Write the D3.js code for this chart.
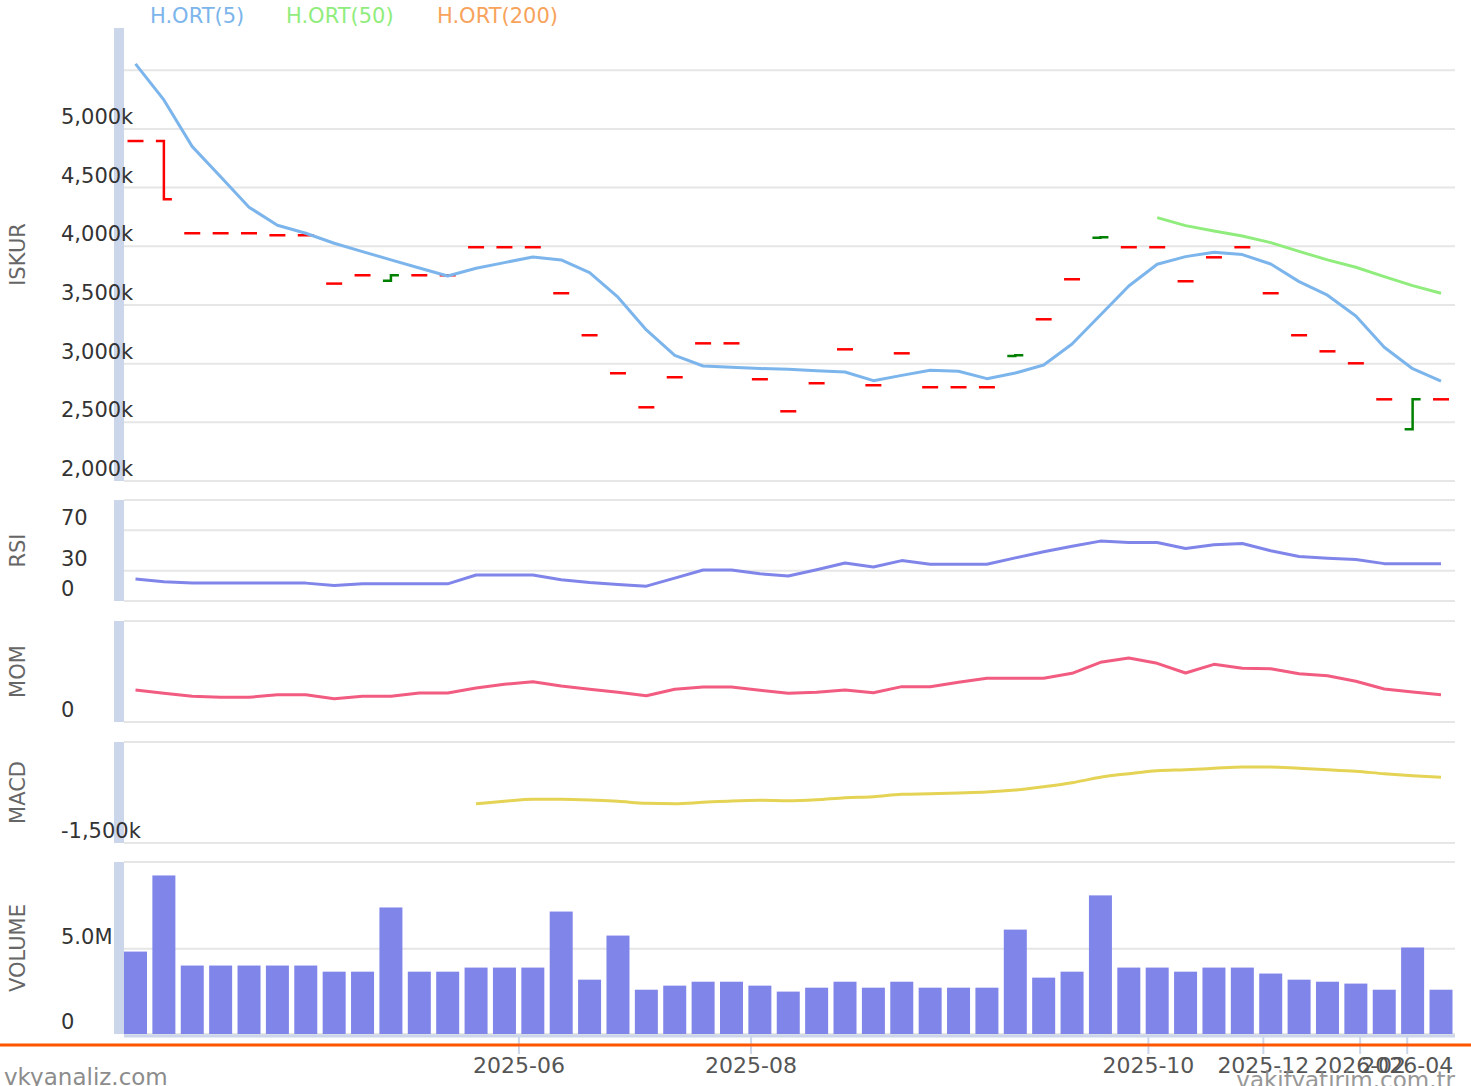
<!DOCTYPE html>
<html>
<head>
<meta charset="utf-8">
<script src="https://cdn.jsdelivr.net/npm/d3@7"></script>
<style>
    body { margin: 0; background: #fff; }
    svg { display: block; font-family: "DejaVu Sans", Verdana, sans-serif; }
</style>
</head>
<body>
<svg id="drawing_region"></svg>
<script>
// price bars (k), one per period
const open  = [4897, 4897, 4111, 4111, 4111, 4094, 4094, 3682, 3753, 3707, 3753, 3753, 3992, 3992, 3992, 3600,
               3242, 2918, 2628, 2884, 3173, 3173, 2867, 2594, 2833, 3122, 2816, 3088, 2799, 2799, 2799, 3066,
               3378, 3719, 4072, 3992, 3992, 3702, 3906, 3992, 3600, 3242, 3105, 3003, 2696, 2440, 2696];
const close = [4897, 4401, 4111, 4111, 4111, 4094, 4094, 3682, 3753, 3753, 3753, 3753, 3992, 3992, 3992, 3600,
               3242, 2918, 2628, 2884, 3173, 3173, 2867, 2594, 2833, 3122, 2816, 3088, 2799, 2799, 2799, 3071,
               3378, 3719, 4077, 3992, 3992, 3702, 3906, 3992, 3600, 3242, 3105, 3003, 2696, 2696, 2696];
const ma5   = [5554, 5247, 4849, 4593, 4333, 4179, 4111, 4026, 3955, 3884, 3815, 3747, 3813, 3861, 3909, 3884,
               3776, 3566, 3287, 3071, 2980, 2969, 2958, 2952, 2940, 2929, 2855, 2900, 2943, 2935, 2872, 2920,
               2988, 3168, 3415, 3662, 3847, 3912, 3949, 3929, 3849, 3699, 3583, 3406, 3140, 2957, 2850];
const ma50  = [null, null, null, null, null, null, null, null, null, null, null, null, null, null, null, null,
               null, null, null, null, null, null, null, null, null, null, null, null, null, null, null, null,
               null, null, null, null, 4244, 4176, 4131, 4088, 4031, 3957, 3884, 3821, 3741, 3665, 3600];
const rsi   = [21.7, 19, 17.7, 17.7, 17.7, 17.7, 17.7, 15.3, 17, 17, 17, 17, 25.7, 25.7, 25.7, 21,
               18.3, 16.3, 14.7, 22.7, 30.7, 30.7, 27, 24.7, 31, 37.7, 33.7, 40, 36.3, 36.3, 36.3, 42.7,
               48.7, 54.3, 59.3, 58, 58, 52, 55.7, 57, 49.7, 44, 42.3, 41, 37, 37, 37];
const mom   = [31.7, 28.4, 25.4, 24.5, 24.5, 27, 27, 23, 25.4, 25.4, 28.7, 28.7, 33.7, 37.3, 39.9, 35.6,
               32.4, 29.4, 26, 32.4, 34.7, 34.7, 31.4, 28.4, 29.4, 31.7, 29, 35, 35, 39.3, 43.3, 43.3,
               43.3, 48.2, 59.1, 63.4, 58.1, 48.5, 57.1, 53.2, 52.8, 47.8, 45.8, 40.3, 32.7, 29.7, 27];
const macd  = [null, null, null, null, null, null, null, null, null, null, null, null, -916, -881, -851, -851,
               -861, -881, -910, -916, -896, -876, -866, -872, -857, -827, -812, -777, -768, -757, -743, -713,
               -664, -605, -524, -471, -426, -411, -391, -371, -371, -391, -411, -435, -471, -501, -524];
const volume = [4.84, 9.31, 4.02, 4.02, 4.02, 4.02, 4.02, 3.66, 3.66, 7.43, 3.66, 3.66, 3.90, 3.90, 3.90, 7.19,
                3.19, 5.78, 2.60, 2.84, 3.07, 3.07, 2.84, 2.49, 2.72, 3.07, 2.72, 3.07, 2.72, 2.72, 2.72, 6.13,
                3.31, 3.66, 8.14, 3.90, 3.90, 3.66, 3.90, 3.90, 3.55, 3.19, 3.07, 2.96, 2.60, 5.08, 2.60]; // millions

// x axis ticks (position in period index) and labels
const xTickPos    = [13.51, 21.69, 35.69, 39.74, 43.15, 44.81];
const xTickLabels = ["2025-06", "2025-08", "2025-10", "2025-12", "2026-02", "2026-04"];

// y axis ticks per panel
const priceTicks  = [2000, 2500, 3000, 3500, 4000, 4500, 5000, 5500];
const priceLabels = ["2,000k", "2,500k", "3,000k", "3,500k", "4,000k", "4,500k", "5,000k", ""];
const rsiTicks    = [0, 30, 70, 100];
const rsiLabels   = ["0", "30", "70", ""];
const momTicks    = [0];
const momLabels   = ["0"];
const macdTicks   = [-1500];
const macdLabels  = ["-1,500k"];
const volTicks    = [0, 5];
const volLabels   = ["0", "5.0M"];

const legendNames  = ["H.ORT(5)", "H.ORT(50)", "H.ORT(200)"];
const legendColors = ["#7cb5ec", "#90ed7d", "#f7a35c"];

const W = 1471, H = 1086;
const svg = d3.select('#drawing_region')
    .attr('width', W)
    .attr('height', H);

const n = close.length;
const idx = d3.range(n);
const plotLeft = 124, plotRight = 1455;

const xscale = d3.scaleLinear()
    .domain([0, n - 1])
    .range([135.5, 1441]);

const panels = [
    {title: 'ISKUR',  top: 28,  bottom: 481,  domain: [2000, 5860], ticks: priceTicks, labels: priceLabels, border: false},
    {title: 'RSI',    top: 500, bottom: 601,  domain: [0, 100],     ticks: rsiTicks,   labels: rsiLabels,   border: true},
    {title: 'MOM',    top: 621, bottom: 722,  domain: [0, 100],     ticks: momTicks,   labels: momLabels,   border: true},
    {title: 'MACD',   top: 742, bottom: 843,  domain: [-1500, 0],   ticks: macdTicks,  labels: macdLabels,  border: true},
    {title: 'VOLUME', top: 862, bottom: 1034, domain: [0, 10.1],    ticks: volTicks,   labels: volLabels,   border: true}
];

panels.forEach(p => {
    p.yscale = d3.scaleLinear().domain(p.domain).range([p.bottom, p.top]);
});

const grid = svg.append('g');
const bands = svg.append('g');
const marks = svg.append('g');
const texts = svg.append('g');

// grid lines and left axis bands
panels.forEach(p => {
    const lines = p.ticks.map(t => p.yscale(t));
    if (p.border) lines.push(p.top);
    grid.selectAll(null).data(lines)
        .join('line')
        .attr('x1', plotLeft).attr('x2', plotRight)
        .attr('y1', d => d).attr('y2', d => d)
        .attr('stroke', '#e6e6e6')
        .attr('stroke-width', 2);

    bands.append('rect')
        .attr('x', 114).attr('y', p.top)
        .attr('width', 10).attr('height', p.bottom - p.top)
        .attr('fill', '#ccd6eb');

    texts.selectAll(null).data(p.ticks)
        .join('text')
        .attr('x', 61)
        .attr('y', d => p.yscale(d) - 5)
        .attr('font-size', 21)
        .attr('fill', '#333')
        .text((d, i) => p.labels[i]);

    texts.append('text')
        .attr('transform', `translate(25, ${(p.top + p.bottom) / 2}) rotate(-90)`)
        .attr('text-anchor', 'middle')
        .attr('font-size', 21)
        .attr('fill', '#666')
        .text(p.title);
});

const [pMain, pRsi, pMom, pMacd, pVol] = panels;

// volume bars
marks.selectAll('rect.vol').data(idx)
    .join('rect')
    .attr('class', 'vol')
    .attr('x', i => xscale(i) - 11.5)
    .attr('width', 23)
    .attr('y', i => pVol.yscale(volume[i]))
    .attr('height', i => pVol.yscale(0) - pVol.yscale(volume[i]))
    .attr('fill', '#8085e9');

// ohlc ticks
marks.selectAll('path.ohlc').data(idx)
    .join('path')
    .attr('class', 'ohlc')
    .attr('d', i => {
        const x = xscale(i), yo = pMain.yscale(open[i]), yc = pMain.yscale(close[i]);
        return `M${x - 8},${yo}H${x}V${yc}H${x + 8}`;
    })
    .attr('fill', 'none')
    .attr('stroke', i => close[i] > open[i] ? '#008000' : '#ff0000')
    .attr('stroke-width', 2.5);

function drawLine(panel, values, color, curve) {
    const line = d3.line()
        .defined(i => values[i] != null)
        .x(i => xscale(i))
        .y(i => panel.yscale(values[i]))
        .curve(curve || d3.curveLinear);
    marks.append('path')
        .datum(idx)
        .attr('d', line)
        .attr('fill', 'none')
        .attr('stroke', color)
        .attr('stroke-width', 3)
        .attr('stroke-linejoin', 'round');
}

drawLine(pMain, ma5, '#7cb5ec');
drawLine(pMain, ma50, '#90ed7d');
drawLine(pRsi, rsi, '#8085e9');
drawLine(pMom, mom, '#f15c80');
drawLine(pMacd, macd, '#e4d354', d3.curveMonotoneX);

// x axis
grid.append('line')
    .attr('x1', plotLeft).attr('x2', plotRight)
    .attr('y1', 1036).attr('y2', 1036)
    .attr('stroke', '#ccd6eb')
    .attr('stroke-width', 3);

grid.selectAll('line.xtick').data(xTickPos)
    .join('line')
    .attr('class', 'xtick')
    .attr('x1', d => xscale(d)).attr('x2', d => xscale(d))
    .attr('y1', 1035).attr('y2', 1054)
    .attr('stroke', '#ccd6eb')
    .attr('stroke-width', 2);

svg.append('line')
    .attr('x1', 0).attr('x2', W)
    .attr('y1', 1045).attr('y2', 1045)
    .attr('stroke', '#ff5500')
    .attr('stroke-width', 3);

texts.selectAll('text.xlab').data(xTickPos)
    .join('text')
    .attr('class', 'xlab')
    .attr('x', d => xscale(d))
    .attr('y', 1073)
    .attr('text-anchor', 'middle')
    .attr('font-size', 22)
    .attr('fill', '#555')
    .text((d, i) => xTickLabels[i]);

// legend
let lx = [150, 286, 437];
texts.selectAll('text.legend').data(legendNames)
    .join('text')
    .attr('class', 'legend')
    .attr('x', (d, i) => lx[i])
    .attr('y', 23)
    .attr('font-size', 21)
    .attr('fill', (d, i) => legendColors[i])
    .text(d => d);

// watermarks
texts.append('text')
    .attr('x', 4).attr('y', 1085)
    .attr('font-size', 23)
    .attr('fill', '#8c8c8c')
    .text('vkyanaliz.com');

texts.append('text')
    .attr('x', 1455).attr('y', 1088)
    .attr('text-anchor', 'end')
    .attr('font-size', 23)
    .attr('fill', '#8c8c8c')
    .attr('opacity', 0.9)
    .text('vakifyatirim.com.tr');
</script>
</body>
</html>
